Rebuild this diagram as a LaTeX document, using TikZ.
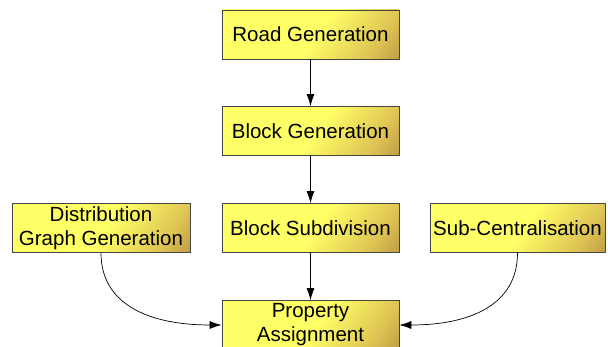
\documentclass[tikz,border=0pt]{standalone}
\usepackage{fontspec}
\setmainfont{Liberation Sans}
\usetikzlibrary{arrows.meta}
\definecolor{yel}{RGB}{255,255,102}
\definecolor{gld}{RGB}{222,196,84}
\definecolor{brn}{RGB}{150,104,46}
\definecolor{bordr}{RGB}{70,70,70}
\pgfdeclarehorizontalshading{boxshade}{100bp}{color(0bp)=(yel); color(52bp)=(yel); color(74bp)=(gld); color(100bp)=(brn)}
\begin{document}
\begin{tikzpicture}[x=1pt,y=-1pt,
  procbox/.style={draw=bordr, line width=0.8pt, shading=boxshade, shading angle=-35,
    minimum width=177pt, minimum height=49pt, inner sep=0pt, align=center,
    font=\fontsize{20.5}{24}\selectfont},
  conn/.style={line width=0.7pt, -{Latex[length=12pt,width=8pt]}}]
\useasboundingbox (0,0) rectangle (608,347);
\node[procbox] (road) at (310.5,34.5) {Road Generation};
\node[procbox] (block) at (310.5,131) {Block Generation};
\node[procbox] (subdiv) at (310.5,228) {Block Subdivision};
\node[procbox, minimum width=178pt] (dist) at (101,228) {Distribution\\Graph Generation};
\node[procbox, minimum width=175pt] (subc) at (517.5,228) {Sub-Centralisation};
\node[procbox] (prop) at (310.5,325) {Property\\Assignment};
\draw[conn] (road) -- (block);
\draw[conn] (block) -- (subdiv);
\draw[conn] (subdiv) -- (prop);
\draw[conn] (dist.south) .. controls (101,305) and (150,325) .. (prop.west);
\draw[conn] (subc.south) .. controls (517.5,305) and (470,325) .. (prop.east);
\end{tikzpicture}
\end{document}
